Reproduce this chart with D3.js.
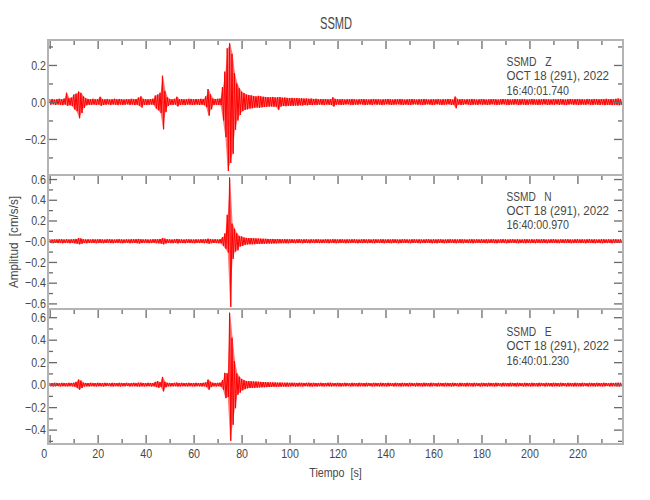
<!DOCTYPE html>
<html><head><meta charset="utf-8">
<script src="https://cdn.jsdelivr.net/npm/d3@7"></script>
<style>
body{margin:0;background:#fff;}
text{font-family:"Liberation Sans",Arial,sans-serif;fill:#474747;}
</style></head><body>
<svg id="c" width="650" height="500"></svg>
<script>
// ---- data (1-second envelope bins, t = 0..238 s) ----
const title = "SSMD";
const components = ["Z","N","E"];
const headerLine = "OCT 18 (291), 2022";
const startTimes = ["16:40:01.740","16:40:00.970","16:40:01.230"];
const xTickValues = [0,20,40,60,80,100,120,140,160,180,200,220];
const xMinorValues = [10,30,50,70,90,110,130,150,170,190,210,230];
const yTickValues = [[-0.2,0,0.2],[-0.6,-0.4,-0.2,0,0.2,0.4,0.6],[-0.4,-0.2,0,0.2,0.4,0.6]];
const yTickLabels = [["−0.2","0.0","0.2"],["−0.6","−0.4","−0.2","−0.0","0.2","0.4","0.6"],["−0.4","−0.2","0.0","0.2","0.4","0.6"]];
const yMinorValues = [[-0.3,-0.1,0.1,0.3],[-0.5,-0.3,-0.1,0.1,0.3,0.5],[-0.5,-0.3,-0.1,0.1,0.3,0.5]];
const yDomains = [[-0.395,0.335],[-0.654,0.639],[-0.528,0.673]];

const zHi = [
.014,.016,.013,.015,.017,.014,.018,.050,.020,.024,.040,.045,.056,.048,.030,.020,.016,.015,.017,.014,
.016,.028,.015,.014,.016,.013,.015,.017,.014,.016,.015,.013,.016,.014,.017,.015,.016,.024,.030,.016,
.015,.014,.016,.017,.035,.040,.050,.142,.060,.025,.016,.014,.017,.028,.015,.016,.014,.015,.017,.016,
.014,.016,.015,.017,.016,.030,.070,.040,.018,.016,.017,.018,.080,.164,.290,.317,.260,.155,.100,.074,
.055,.047,.040,.037,.035,.032,.030,.033,.030,.028,.027,.026,.025,.027,.024,.025,.026,.023,.024,.022,
.021,.022,.020,.021,.019,.020,.018,.019,.017,.018,.016,.017,.015,.016,.015,.016,.014,.015,.025,.016,
.015,.014,.016,.013,.015,.014,.016,.015,.013,.014,.016,.015,.014,.013,.015,.016,.014,.015,.013,.014,
.015,.016,.014,.013,.015,.014,.016,.015,.013,.014,.015,.016,.014,.013,.015,.014,.016,.015,.013,.014,
.015,.014,.016,.013,.015,.014,.016,.015,.013,.029,.015,.014,.016,.013,.015,.014,.016,.015,.013,.014,
.016,.015,.013,.014,.015,.016,.014,.013,.015,.016,.014,.015,.013,.014,.016,.015,.014,.016,.015,.013,
.014,.016,.015,.013,.014,.015,.016,.014,.015,.013,.016,.014,.015,.016,.014,.013,.015,.016,.014,.015,
.016,.014,.015,.013,.016,.015,.014,.016,.015,.014,.016,.015,.017,.015,.016,.014,.017,.018,.016];
const zLo = [
-.015,-.013,-.016,-.014,-.015,-.017,-.014,-.020,-.018,-.022,-.040,-.050,-.088,-.060,-.032,-.018,-.015,-.016,-.014,-.016,
-.014,-.020,-.016,-.015,-.013,-.016,-.014,-.015,-.017,-.014,-.016,-.015,-.013,-.016,-.014,-.017,-.015,-.020,-.030,-.015,
-.016,-.015,-.014,-.016,-.035,-.045,-.060,-.148,-.055,-.022,-.015,-.016,-.014,-.024,-.016,-.015,-.017,-.014,-.015,-.016,
-.015,-.014,-.016,-.015,-.017,-.028,-.074,-.040,-.017,-.015,-.016,-.018,-.100,-.190,-.373,-.330,-.280,-.150,-.100,-.070,
-.050,-.043,-.040,-.036,-.034,-.031,-.030,-.032,-.029,-.027,-.026,-.025,-.024,-.026,-.025,-.043,-.025,-.022,-.023,-.021,
-.020,-.021,-.019,-.020,-.018,-.019,-.017,-.018,-.016,-.017,-.015,-.016,-.014,-.015,-.016,-.014,-.015,-.016,-.025,-.015,
-.014,-.016,-.015,-.014,-.013,-.015,-.016,-.014,-.015,-.013,-.014,-.016,-.015,-.014,-.016,-.013,-.015,-.014,-.016,-.015,
-.013,-.014,-.016,-.015,-.014,-.013,-.015,-.016,-.014,-.015,-.016,-.014,-.013,-.015,-.014,-.016,-.015,-.013,-.014,-.016,
-.015,-.013,-.014,-.016,-.015,-.014,-.013,-.016,-.015,-.034,-.014,-.016,-.015,-.013,-.014,-.016,-.015,-.014,-.016,-.013,
-.015,-.014,-.016,-.015,-.013,-.014,-.016,-.015,-.014,-.013,-.015,-.016,-.014,-.015,-.013,-.016,-.015,-.014,-.016,-.015,
-.013,-.015,-.014,-.016,-.015,-.014,-.013,-.016,-.015,-.014,-.015,-.013,-.016,-.014,-.015,-.016,-.014,-.013,-.015,-.014,
-.016,-.015,-.014,-.016,-.013,-.015,-.016,-.014,-.015,-.016,-.014,-.017,-.015,-.016,-.017,-.015,-.016,-.018,-.017];
const nHi = [
.018,.016,.019,.017,.020,.018,.016,.019,.017,.018,.020,.022,.030,.026,.019,.017,.018,.016,.019,.017,
.018,.020,.017,.016,.019,.018,.017,.016,.018,.019,.017,.016,.018,.017,.019,.018,.020,.022,.019,.017,
.018,.016,.017,.019,.020,.018,.022,.030,.024,.018,.017,.016,.019,.022,.018,.017,.016,.019,.018,.017,
.016,.018,.017,.019,.018,.020,.025,.020,.018,.019,.017,.020,.040,.075,.255,.615,.170,.120,.075,.050,
.045,.035,.032,.030,.030,.028,.027,.026,.025,.024,.023,.022,.021,.022,.020,.021,.020,.019,.020,.019,
.018,.019,.017,.018,.020,.017,.018,.019,.016,.018,.017,.019,.018,.016,.017,.019,.018,.017,.020,.018,
.017,.019,.018,.016,.018,.017,.019,.018,.017,.016,.018,.019,.017,.018,.016,.019,.018,.017,.019,.018,
.016,.018,.017,.019,.018,.016,.017,.019,.018,.017,.016,.018,.019,.017,.018,.016,.017,.019,.018,.016,
.018,.017,.019,.018,.016,.017,.018,.019,.017,.018,.016,.019,.018,.017,.016,.018,.019,.017,.018,.017,
.019,.016,.018,.017,.019,.018,.016,.017,.018,.019,.017,.016,.018,.019,.017,.018,.016,.017,.019,.018,
.017,.018,.016,.019,.017,.018,.019,.016,.017,.018,.019,.017,.016,.018,.017,.019,.018,.017,.016,.018,
.019,.017,.018,.016,.018,.019,.017,.018,.016,.017,.019,.018,.017,.018,.016,.019,.018,.017,.019];
const nLo = [
-.017,-.019,-.016,-.018,-.017,-.019,-.018,-.016,-.019,-.017,-.020,-.024,-.030,-.024,-.018,-.019,-.016,-.018,-.017,-.019,
-.017,-.018,-.019,-.017,-.016,-.018,-.019,-.017,-.016,-.018,-.019,-.017,-.016,-.019,-.018,-.017,-.019,-.022,-.018,-.016,
-.017,-.019,-.018,-.016,-.019,-.020,-.023,-.030,-.022,-.017,-.018,-.019,-.016,-.021,-.017,-.018,-.019,-.016,-.017,-.018,
-.019,-.017,-.018,-.016,-.019,-.018,-.024,-.019,-.017,-.018,-.019,-.020,-.045,-.072,-.110,-.634,-.170,-.100,-.088,-.050,
-.045,-.035,-.031,-.030,-.029,-.028,-.026,-.027,-.025,-.024,-.023,-.022,-.022,-.021,-.021,-.020,-.020,-.019,-.019,-.020,
-.018,-.017,-.019,-.018,-.016,-.019,-.017,-.018,-.019,-.016,-.018,-.017,-.019,-.018,-.017,-.016,-.019,-.018,-.017,-.019,
-.018,-.016,-.017,-.019,-.018,-.017,-.016,-.018,-.019,-.017,-.018,-.016,-.019,-.017,-.018,-.019,-.016,-.018,-.017,-.019,
-.017,-.018,-.019,-.016,-.017,-.019,-.018,-.016,-.017,-.018,-.019,-.017,-.016,-.018,-.019,-.017,-.018,-.016,-.017,-.019,
-.018,-.019,-.016,-.017,-.019,-.018,-.017,-.016,-.018,-.019,-.017,-.018,-.019,-.016,-.018,-.017,-.019,-.018,-.016,-.017,
-.016,-.018,-.019,-.017,-.016,-.018,-.019,-.017,-.018,-.016,-.019,-.018,-.017,-.016,-.018,-.019,-.017,-.018,-.019,-.016,
-.018,-.017,-.019,-.016,-.018,-.017,-.016,-.019,-.018,-.017,-.016,-.018,-.019,-.017,-.018,-.016,-.017,-.019,-.018,-.017,
-.016,-.018,-.017,-.019,-.017,-.016,-.018,-.019,-.017,-.018,-.019,-.016,-.018,-.017,-.019,-.018,-.016,-.018,-.017];
const eHi = [
.015,.014,.016,.015,.013,.016,.015,.014,.016,.015,.017,.025,.045,.035,.018,.015,.014,.016,.015,.014,
.016,.015,.014,.016,.015,.013,.016,.015,.014,.016,.015,.014,.016,.013,.015,.016,.014,.018,.017,.015,
.014,.016,.015,.014,.025,.030,.022,.069,.025,.016,.015,.014,.016,.018,.015,.016,.014,.015,.016,.014,
.015,.016,.014,.015,.016,.020,.045,.025,.016,.015,.016,.018,.040,.105,.100,.640,.417,.210,.100,.070,
.050,.040,.032,.030,.030,.028,.027,.026,.024,.023,.022,.021,.020,.020,.019,.018,.019,.018,.017,.018,
.016,.017,.016,.015,.017,.016,.015,.016,.017,.015,.016,.014,.015,.016,.014,.015,.016,.017,.015,.014,
.016,.015,.014,.016,.015,.013,.016,.015,.014,.016,.015,.014,.016,.015,.013,.016,.015,.014,.016,.015,
.014,.016,.015,.013,.016,.015,.014,.016,.015,.014,.016,.015,.013,.016,.015,.014,.016,.015,.014,.016,
.015,.013,.016,.015,.014,.016,.015,.014,.016,.015,.013,.016,.015,.014,.016,.015,.014,.016,.015,.013,
.016,.015,.014,.016,.015,.014,.016,.015,.013,.016,.015,.014,.016,.015,.014,.016,.015,.013,.016,.015,
.014,.016,.015,.014,.016,.015,.013,.016,.015,.014,.016,.015,.014,.016,.015,.013,.016,.015,.014,.016,
.015,.014,.016,.015,.013,.016,.015,.014,.016,.015,.014,.016,.015,.013,.016,.015,.016,.017,.016];
const eLo = [
-.014,-.016,-.015,-.013,-.016,-.014,-.015,-.016,-.014,-.015,-.018,-.028,-.045,-.030,-.016,-.015,-.016,-.014,-.015,-.016,
-.014,-.015,-.016,-.014,-.013,-.015,-.016,-.014,-.015,-.016,-.014,-.015,-.013,-.016,-.015,-.014,-.016,-.017,-.015,-.016,
-.015,-.014,-.016,-.015,-.022,-.028,-.020,-.060,-.024,-.015,-.016,-.015,-.014,-.017,-.016,-.014,-.015,-.016,-.014,-.015,
-.016,-.014,-.015,-.016,-.014,-.020,-.045,-.022,-.015,-.016,-.014,-.018,-.045,-.120,-.110,-.500,-.357,-.210,-.090,-.070,
-.050,-.040,-.033,-.030,-.029,-.028,-.026,-.025,-.024,-.023,-.022,-.021,-.020,-.019,-.019,-.018,-.018,-.017,-.018,-.017,
-.016,-.015,-.017,-.016,-.015,-.016,-.014,-.015,-.016,-.017,-.015,-.016,-.014,-.015,-.016,-.014,-.015,-.016,-.014,-.015,
-.015,-.016,-.014,-.015,-.013,-.016,-.015,-.014,-.016,-.015,-.014,-.016,-.015,-.013,-.016,-.015,-.014,-.016,-.015,-.014,
-.016,-.015,-.013,-.016,-.015,-.014,-.016,-.015,-.014,-.016,-.015,-.013,-.016,-.015,-.014,-.016,-.015,-.014,-.016,-.015,
-.013,-.016,-.015,-.014,-.016,-.015,-.014,-.016,-.015,-.013,-.016,-.015,-.014,-.016,-.015,-.014,-.016,-.015,-.013,-.016,
-.015,-.014,-.016,-.015,-.014,-.016,-.015,-.013,-.016,-.015,-.014,-.016,-.015,-.014,-.016,-.015,-.013,-.016,-.015,-.014,
-.016,-.015,-.014,-.016,-.015,-.013,-.016,-.015,-.014,-.016,-.015,-.014,-.016,-.015,-.013,-.016,-.015,-.014,-.016,-.015,
-.014,-.016,-.015,-.013,-.016,-.015,-.014,-.016,-.015,-.014,-.016,-.015,-.013,-.016,-.015,-.014,-.016,-.017,-.016];
const traces = [[zHi,zLo],[nHi,nLo],[eHi,eLo]];

// ---- layout ----
const svg = d3.select("#c");
const left = 48, right = 623;
const panelTop = [40, 175, 309], panelBot = [175, 309, 444];
const headerBase = [66, 200.5, 336];
const x = d3.scaleLinear().domain([-0.7, 239]).range([left, right]);
const frameColor = "#b4b4b4", tickColor = "#6a6a6a";

function fit(sel, w){ sel.attr("textLength", w).attr("lengthAdjust","spacingAndGlyphs"); return sel; }
function squeeze(sel, f){ sel.each(function(){ const L=this.getComputedTextLength(); d3.select(this).attr("textLength",L*f).attr("lengthAdjust","spacingAndGlyphs"); }); }

fit(svg.append("text").attr("x", 336).attr("y", 29).attr("text-anchor","middle")
  .style("font-size","17px").text(title), 32);

const line = d3.line().x(d=>x(d[0])).y(d=>d[1]);

components.forEach((comp, p) => {
  const y = d3.scaleLinear().domain(yDomains[p]).range([panelBot[p], panelTop[p]]);
  const g = svg.append("g");
  const cid = "clip"+p;
  svg.append("clipPath").attr("id",cid).append("rect")
    .attr("x",left).attr("y",panelTop[p]).attr("width",right-left).attr("height",panelBot[p]-panelTop[p]);

  // trace: envelope fill + oscillating line
  const [hi, lo] = traces[p];
  const area = d3.area().x((d,i)=>x(i+0.25)).y0((d,i)=>y(lo[i])).y1(d=>y(d));
  g.append("path").attr("clip-path",`url(#${cid})`).attr("d", area(hi))
    .attr("fill","#ff2020").attr("fill-opacity",0.6).attr("stroke","none");
  const pts = [];
  hi.forEach((v,i)=>{ pts.push([i, y(v)]); pts.push([i+0.5, y(lo[i])]); });
  g.append("path").attr("clip-path",`url(#${cid})`).attr("d", line(pts))
    .attr("fill","none").attr("stroke","#ff0000").attr("stroke-width",1);

  // top x ticks (inward)
  g.append("g").attr("transform",`translate(0,${panelTop[p]})`)
    .call(d3.axisBottom(x).tickValues(xTickValues).tickSize(9).tickFormat(""));
  g.append("g").attr("transform",`translate(0,${panelTop[p]})`)
    .call(d3.axisBottom(x).tickValues(xMinorValues).tickSize(5).tickFormat(""));

  // left y ticks with labels
  const yl = d3.axisLeft(y).tickValues(yTickValues[p]).tickSizeInner(-9).tickSizeOuter(0).tickPadding(2)
    .tickFormat((d,i)=>yTickLabels[p][i]);
  g.append("g").attr("class","lab").attr("transform",`translate(${left},0)`).call(yl);
  g.append("g").attr("transform",`translate(${left},0)`)
    .call(d3.axisRight(y).tickValues(yMinorValues[p]).tickSize(5).tickFormat(""));
  // right y ticks
  g.append("g").attr("transform",`translate(${right},0)`)
    .call(d3.axisLeft(y).tickValues(yTickValues[p]).tickSize(9).tickFormat(""));
  g.append("g").attr("transform",`translate(${right},0)`)
    .call(d3.axisLeft(y).tickValues(yMinorValues[p]).tickSize(5).tickFormat(""));

  // header text
  const tx = 506.5;
  const lines = ["SSMD   " + comp, headerLine, startTimes[p]];
  const widths = [45, 102.5, 62.5];
  lines.forEach((s,k)=>{
    fit(g.append("text").attr("x",tx).attr("y", headerBase[p] + k*14.3)
      .style("font-size","12.3px").attr("xml:space","preserve").style("white-space","pre").text(s), widths[k]);
  });
});

// bottom x axis (ticks inward, labels below)
const bx = svg.append("g").attr("class","lab").attr("transform",`translate(0,${panelBot[2]})`);
bx.call(d3.axisBottom(x).tickValues(xTickValues).tickSizeInner(-9).tickSizeOuter(0).tickPadding(5));
svg.append("g").attr("transform",`translate(0,${panelBot[2]})`)
  .call(d3.axisTop(x).tickValues(xMinorValues).tickSize(5).tickFormat(""));
bx.selectAll(".tick text").filter(d=>d===0).attr("dx",-6);

// frames
panelTop.forEach((t,p)=>{
  svg.append("rect").attr("x",left).attr("y",t).attr("width",right-left).attr("height",panelBot[p]-t)
    .attr("fill","none").attr("stroke",frameColor).attr("stroke-width",2);
});

// style axes
svg.selectAll(".domain").remove();
svg.selectAll(".tick line").attr("stroke",tickColor).attr("stroke-width",1.3);
const tt = svg.selectAll(".lab .tick text").style("font-size","13px").attr("fill","#474747")
  .style("font-family",'"Liberation Sans",Arial,sans-serif');
squeeze(tt, 0.82);

// axis titles
fit(svg.append("text").attr("x",335.5).attr("y",476.5).attr("text-anchor","middle")
  .style("font-size","13px").attr("xml:space","preserve").style("white-space","pre").text("Tiempo  [s]"), 52.5);
fit(svg.append("text").attr("transform","translate(18,242) rotate(-90)").attr("text-anchor","middle")
  .style("font-size","13px").attr("xml:space","preserve").style("white-space","pre").text("Amplitud  [cm/s/s]"), 92);
</script></body></html>
